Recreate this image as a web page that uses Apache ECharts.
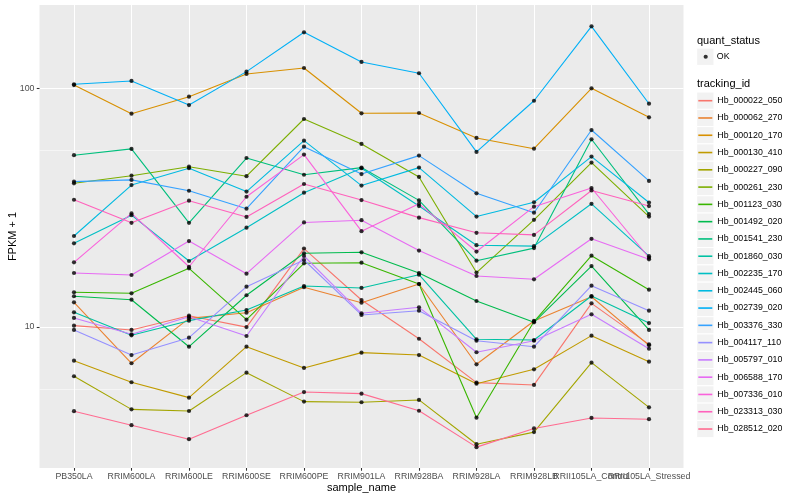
<!DOCTYPE html>
<html><head><meta charset="utf-8">
<script src="https://cdn.jsdelivr.net/npm/echarts@6/dist/echarts.min.js"></script>
<style>html,body{margin:0;padding:0;background:#fff}#c{width:800px;height:500px}</style>
</head><body><div id="c"></div>
<script>
// ---------- data ----------
const categories = ['PB350LA','RRIM600LA','RRIM600LE','RRIM600SE','RRIM600PE','RRIM901LA','RRIM928BA','RRIM928LA','RRIM928LB','RRII105LA_Control','RRII105LA_Stressed'];
const trackingIds = ['Hb_000022_050','Hb_000062_270','Hb_000120_170','Hb_000130_410','Hb_000227_090','Hb_000261_230','Hb_001123_030','Hb_001492_020','Hb_001541_230','Hb_001860_030','Hb_002235_170','Hb_002445_060','Hb_002739_020','Hb_003376_330','Hb_004117_110','Hb_005797_010','Hb_006588_170','Hb_007336_010','Hb_023313_030','Hb_028512_020'];
const statusLabels = ['OK'];
const yTickValues = [10, 100];
const colors = ['#F8766D','#EA8331','#D89000','#C09B00','#A3A500','#7CAE00','#39B600','#00BB4E','#00BF7D','#00C1A3','#00BFC4','#00BAE0','#00B0F6','#35A2FF','#9590FF','#C77CFF','#E76BF3','#FA62DB','#FF62BC','#FF6C91'];

const Hb_000022_050 = [10.13, 9.72, 11.15, 9.99, 21.3, 12.97, 8.93, 5.85, 5.72, 12.56, 8.46];
const Hb_000062_270 = [12.69, 7.05, 10.87, 11.48, 14.67, 12.64, 15.14, 6.98, 10.60, 13.39, 8.38];
const Hb_000120_170 = [103.0, 78.2, 92.1, 114.7, 121.5, 78.5, 78.7, 61.9, 55.8, 99.9, 75.5];
const Hb_000130_410 = [7.23, 5.87, 5.06, 8.27, 6.74, 7.81, 7.63, 5.79, 6.65, 9.20, 7.16];
const Hb_000227_090 = [6.22, 4.52, 4.45, 6.44, 4.87, 4.84, 4.95, 3.23, 3.63, 7.09, 4.61];
const Hb_000261_230 = [39.97, 43.0, 46.9, 42.8, 74.3, 58.4, 42.5, 16.9, 28.1, 48.8, 29.0];
const Hb_001123_030 = [13.97, 13.84, 17.61, 10.73, 18.48, 18.59, 15.14, 4.17, 10.54, 19.89, 14.33];
const Hb_001492_020 = [13.45, 13.01, 8.27, 13.58, 20.35, 20.55, 16.83, 12.85, 10.46, 18.0, 9.72];
const Hb_001541_230 = [52.4, 55.7, 27.3, 51.0, 43.4, 46.5, 33.9, 18.95, 21.4, 61.1, 29.7];
const Hb_001860_030 = [11.52, 9.23, 10.63, 11.78, 14.85, 14.57, 16.56, 8.88, 8.82, 13.48, 10.39];
const Hb_002235_170 = [22.4, 29.4, 18.9, 26.05, 36.5, 46.2, 32.1, 22.0, 21.8, 32.8, 19.8];
const Hb_002445_060 = [24.05, 39.3, 46.2, 36.9, 60.3, 39.1, 46.5, 29.0, 33.3, 51.7, 33.2];
const Hb_002739_020 = [103.8, 107.2, 85.0, 117.3, 171.4, 128.8, 115.5, 54.1, 88.6, 181.6, 86.1];
const Hb_003376_330 = [40.6, 41.3, 37.2, 31.3, 56.9, 43.7, 52.2, 36.3, 30.1, 66.8, 40.9];
const Hb_004117_110 = [9.72, 7.63, 9.02, 14.75, 19.08, 11.23, 11.70, 8.76, 8.27, 14.89, 11.70];
const Hb_005797_010 = [10.91, 9.32, 11.04, 9.17, 19.83, 11.41, 12.09, 7.84, 8.76, 11.30, 8.11];
const Hb_006588_170 = [16.83, 16.51, 22.9, 16.72, 27.4, 28.0, 20.9, 16.35, 15.84, 23.4, 19.2];
const Hb_007336_010 = [18.66, 29.9, 17.88, 35.1, 52.7, 25.2, 32.8, 20.7, 31.9, 38.2, 19.5];
const Hb_023313_030 = [34.1, 27.3, 33.8, 28.9, 39.7, 34.0, 28.7, 24.8, 24.3, 37.3, 32.1];
const Hb_028512_020 = [4.44, 3.88, 3.39, 4.27, 5.34, 5.26, 4.46, 3.14, 3.76, 4.16, 4.11];

const seriesValues = [Hb_000022_050, Hb_000062_270, Hb_000120_170, Hb_000130_410, Hb_000227_090,
  Hb_000261_230, Hb_001123_030, Hb_001492_020, Hb_001541_230, Hb_001860_030, Hb_002235_170,
  Hb_002445_060, Hb_002739_020, Hb_003376_330, Hb_004117_110, Hb_005797_010, Hb_006588_170,
  Hb_007336_010, Hb_023313_030, Hb_028512_020];

// ---------- chart ----------
const FONT = 'Liberation Sans, Arial, Helvetica, sans-serif';
const yMin = 2.568, yMax = 223.0;
const chart = echarts.init(document.getElementById('c'), null, {renderer: 'canvas'});

const series = trackingIds.map((id, i) => ({
  type: 'line', name: id, xAxisIndex: 1, yAxisIndex: 1,
  data: seriesValues[i], color: colors[i],
  symbol: 'none', showSymbol: false, clip: false, silent: true, animation: false, z: 2,
  lineStyle: {width: 1.1, color: colors[i]}
}));
const points = [];
seriesValues.forEach(vals => vals.forEach((v, j) => points.push([j, v])));
series.push({
  type: 'scatter', name: statusLabels[0], xAxisIndex: 1, yAxisIndex: 1, data: points,
  symbol: 'circle', symbolSize: 4.2, itemStyle: {color: '#000'}, clip: false, silent: true,
  animation: false, z: 3
});

const keyTop0 = 48.1, keyTop1 = 92.06, keySize = 17.28;
const graphics = [
  {type: 'text', x: 697, y: 40.7, style: {text: 'quant_status', fill: '#000', fontSize: 11, fontFamily: FONT, verticalAlign: 'middle'}},
  {type: 'text', x: 697, y: 84.3, style: {text: 'tracking_id', fill: '#000', fontSize: 11, fontFamily: FONT, verticalAlign: 'middle'}},
  {type: 'rect', z: -1, shape: {x: 696.7, y: keyTop0, width: keySize, height: keySize}, style: {fill: '#F2F2F2', stroke: '#fff', lineWidth: 1}}
];
trackingIds.forEach((id, i) => graphics.push({
  type: 'rect', z: -1, shape: {x: 696.7, y: keyTop1 + i * keySize, width: keySize, height: keySize},
  style: {fill: '#F2F2F2', stroke: '#fff', lineWidth: 1}
}));

const option = {
  backgroundColor: '#fff',
  animation: false,
  textStyle: {fontFamily: FONT},
  grid: [
    {left: 39.5, width: 644, top: 5, height: 463, show: true, backgroundColor: '#EBEBEB', borderWidth: 0, containLabel: false, outerBoundsMode: 'none'},
    {left: 74, width: 575, top: 5, height: 463, show: false, containLabel: false, outerBoundsMode: 'none'}
  ],
  xAxis: [
    {gridIndex: 0, type: 'value', min: 0, max: 1, show: false},
    {gridIndex: 1, type: 'category', data: categories, boundaryGap: false,
     axisLine: {show: false},
     axisTick: {show: true, length: 2.75, interval: 0, lineStyle: {color: '#333333', width: 1.07}},
     axisLabel: {interval: 0, fontSize: 8.8, color: '#4D4D4D', margin: 4.5, fontFamily: FONT},
     splitLine: {show: true, interval: 0, lineStyle: {color: '#FFFFFF', width: 1.07}},
     name: 'sample_name', nameLocation: 'middle', nameGap: 14, nameMoveOverlap: false,
     nameTextStyle: {fontSize: 11, color: '#000', fontFamily: FONT}}
  ],
  yAxis: [
    {gridIndex: 0, type: 'log', logBase: 10, min: yMin, max: yMax,
     axisLine: {show: false},
     axisTick: {show: true, length: 2.75, customValues: yTickValues, lineStyle: {color: '#333333', width: 1.07}},
     axisLabel: {customValues: yTickValues, formatter: v => String(Math.round(v)), fontSize: 8.8, color: '#4D4D4D', margin: 5, fontFamily: FONT},
     splitLine: {show: true, lineStyle: {color: '#FFFFFF', width: 1.07}},
     minorTick: {show: false, splitNumber: 2},
     minorSplitLine: {show: true, lineStyle: {color: '#FFFFFF', width: 0.53}},
     name: 'FPKM + 1', nameLocation: 'middle', nameGap: 21, nameMoveOverlap: false,
     nameTextStyle: {fontSize: 11, color: '#000', fontFamily: FONT}},
    {gridIndex: 1, type: 'log', logBase: 10, min: yMin, max: yMax, show: false,
     splitLine: {show: false}}
  ],
  legend: [
    {data: statusLabels, orient: 'vertical', left: 703.6, top: keyTop0, padding: 0,
     icon: 'circle', itemWidth: 4.2, itemHeight: 4.2, itemGap: 0, selectedMode: false,
     itemStyle: {borderWidth: 0},
     textStyle: {fontSize: 8.8, color: '#000', lineHeight: keySize, padding: [0, 0, 0, 4], fontFamily: FONT}},
    {data: trackingIds, orient: 'vertical', left: 698.3, top: keyTop1, padding: 0,
     icon: 'path://M0,0L14,0L14,1.6L0,1.6Z', itemWidth: 14, itemHeight: 14, itemGap: 0, selectedMode: false,
     itemStyle: {borderWidth: 0},
     textStyle: {fontSize: 8.8, color: '#000', lineHeight: keySize, fontFamily: FONT}}
  ],
  graphic: graphics,
  series: series
};
chart.setOption(option);
</script></body></html>
